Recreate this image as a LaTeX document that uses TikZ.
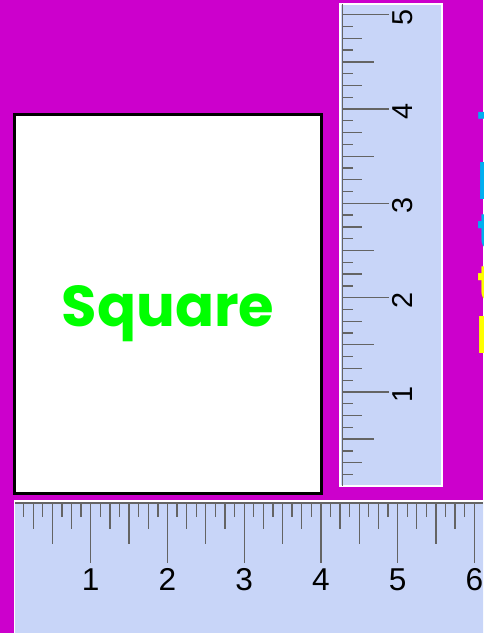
\documentclass[tikz,border=0pt]{standalone}
\usepackage{fontspec}
\usepackage{tikz}
\newfontfamily\geofont{Poppins}
\newfontfamily\rulerfont{Liberation Sans}

\definecolor{bgmagenta}{RGB}{204,0,204}
\definecolor{rulerblue}{RGB}{200,213,248}
\definecolor{tickgray}{RGB}{100,100,100}
\definecolor{sidecyan}{RGB}{0,176,240}
\definecolor{sideyellow}{RGB}{255,255,0}
\definecolor{squaregreen}{RGB}{0,255,0}

\begin{document}
\begin{tikzpicture}[x=0.5pt,y=-0.5pt,
  every node/.style={inner sep=0pt, outer sep=0pt},
  rulertick/.style={draw=tickgray, line width=0.65pt},
  rulerband/.style={fill=rulerblue, draw=white, line width=0.8pt},
  hnum/.style={font=\rulerfont\fontsize{15.8}{16}\selectfont, anchor=base},
  vnum/.style={font=\rulerfont\fontsize{14.4}{15}\selectfont, rotate=90, anchor=base},
  sidetext/.style={font=\geofont\bfseries\fontsize{25}{26}\selectfont, anchor=base west}]
\useasboundingbox (0,0) rectangle (483,633);
\clip (0,0) rectangle (483,633);
\fill[bgmagenta] (0,0) rectangle (483,633);

% square card
\node[draw, fill=white, line width=1.5pt, minimum width=153.35pt, minimum height=189.35pt] (square) at (167.85,303.85) {};
\node[font=\geofont\bfseries\fontsize{28.8}{30}\selectfont, text=squaregreen, anchor=base] (squarelabel) at (168,326) {Square};

% vertical ruler
\draw[rulerband] (340,4) rectangle (442,486);
\draw[rulertick] (342.3,4) -- (342.3,486);
\foreach \j in {1,...,40}{
  \pgfmathsetmacro\len{mod(\j,8)==0 ? 46.7 : (mod(\j,4)==0 ? 32 : (mod(\j,2)==0 ? 20 : 11))}
  \draw[rulertick] (342.3,{486.3-94.32*\j/8}) -- ++(\len,0);
}
\foreach \k in {1,...,5}
  \node[vnum] (v\k) at (412.3,{486.3-94.32*\k+2.5}) {\k};

% horizontal ruler
\draw[rulerband] (14.5,501) rectangle (490,640);
\draw[rulertick] (15,503) -- (483,503);
\foreach \j in {1,...,48}{
  \pgfmathsetmacro\len{mod(\j,8)==0 ? 59.7 : (mod(\j,4)==0 ? 41 : (mod(\j,2)==0 ? 26 : 13.5))}
  \draw[rulertick] ({14+76.72*\j/8},503) -- ++(0,\len);
}
\foreach \k in {1,...,6}
  \node[hnum] (h\k) at ({14+76.72*\k},590) {\k};

% text cut off at the right
\node[sidetext, text=sidecyan] (side1) at (477,147.5) {T};
\node[sidetext, text=sidecyan] (side2) at (477.7,199) {l};
\node[sidetext, text=sidecyan] (side3) at (477,249.3) {t};
\node[sidetext, text=sideyellow] (side4) at (477.3,301.7) {t};
\node[sidetext, text=sideyellow] (side5) at (476.3,353.3) {l};
\end{tikzpicture}
\end{document}
